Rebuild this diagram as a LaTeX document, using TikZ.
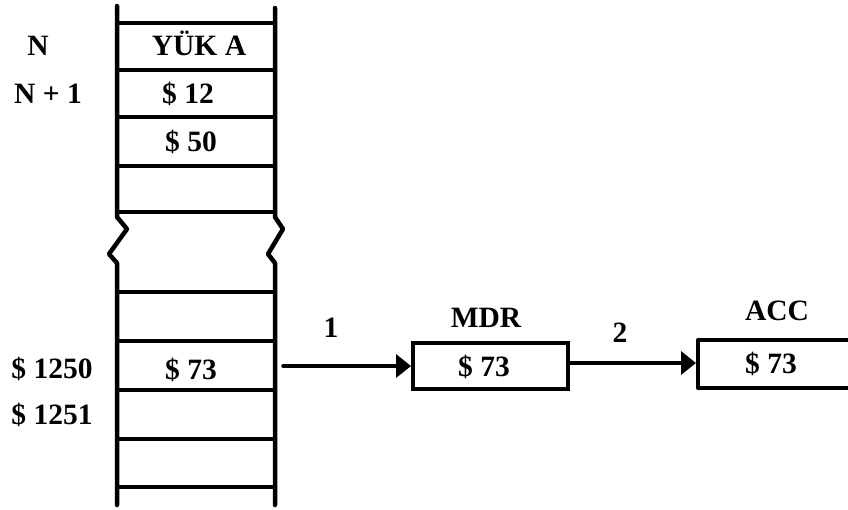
\documentclass[tikz,border=0pt]{standalone}
\usepackage{fontspec}
\setmainfont{Liberation Serif}
\usetikzlibrary{arrows.meta}
\begin{document}
\begin{tikzpicture}[x=1pt,y=-1pt,
  lbl/.style={font=\fontsize{29.5}{34}\selectfont\bfseries, inner sep=0pt, anchor=base},
  mem/.style={line width=4.5pt, line cap=round, line join=round},
  cell/.style={line width=4pt},
  arr/.style={line width=3.5pt, line cap=round, -{Triangle[length=15pt,width=23pt]}},
  reg/.style={draw, line width=4pt, minimum width=155pt, minimum height=46pt, inner sep=0pt}]
\useasboundingbox (0,0) rectangle (848,509);
% memory column
\draw[mem] (117,6) -- (117,217) -- (127,229) -- (109,254) -- (117,263) -- (117,505);
\draw[mem] (275,8) -- (275,217) -- (283,229) -- (268,254) -- (275,263) -- (275,505);
\foreach \yy in {23,70,117,166,212,292,341,390,439,487}
  \draw[cell] (117,\yy) -- (275,\yy);
% texts in column and addresses
\node[lbl] (n) at (38,55) {N};
\node[lbl] (yuka) at (199,55) {YÜK A};
\node[lbl] (n1) at (48,103) {N + 1};
\node[lbl] (v12) at (188,103) {\$ 12};
\node[lbl] (v50) at (191,151) {\$ 50};
\node[lbl] (a1250) at (52,378) {\$ 1250};
\node[lbl] (v73) at (191,379) {\$ 73};
\node[lbl] (a1251) at (52,424) {\$ 1251};
% MDR
\node[reg] (mdr) at (490.5,366) {};
\node[lbl] (mdrv) at (484,376) {\$ 73};
\node[lbl] (mdrl) at (486,327) {MDR};
% ACC (open to the right edge)
\draw[line width=4pt, line join=round] (850,340) -- (698,340) -- (698,388) -- (850,388);
\coordinate (accw) at (696,363);
\node[lbl] (accv) at (771,373) {\$ 73};
\node[lbl] (accl) at (777,320) {ACC};
% arrows
\coordinate (src) at (283,366);
\draw[arr] (src) -- (mdr.west);
\node[lbl] (l1) at (331,337) {1};
\draw[arr] (mdr.east |- accw) -- (accw);
\node[lbl] (l2) at (620,342) {2};
\end{tikzpicture}
\end{document}
